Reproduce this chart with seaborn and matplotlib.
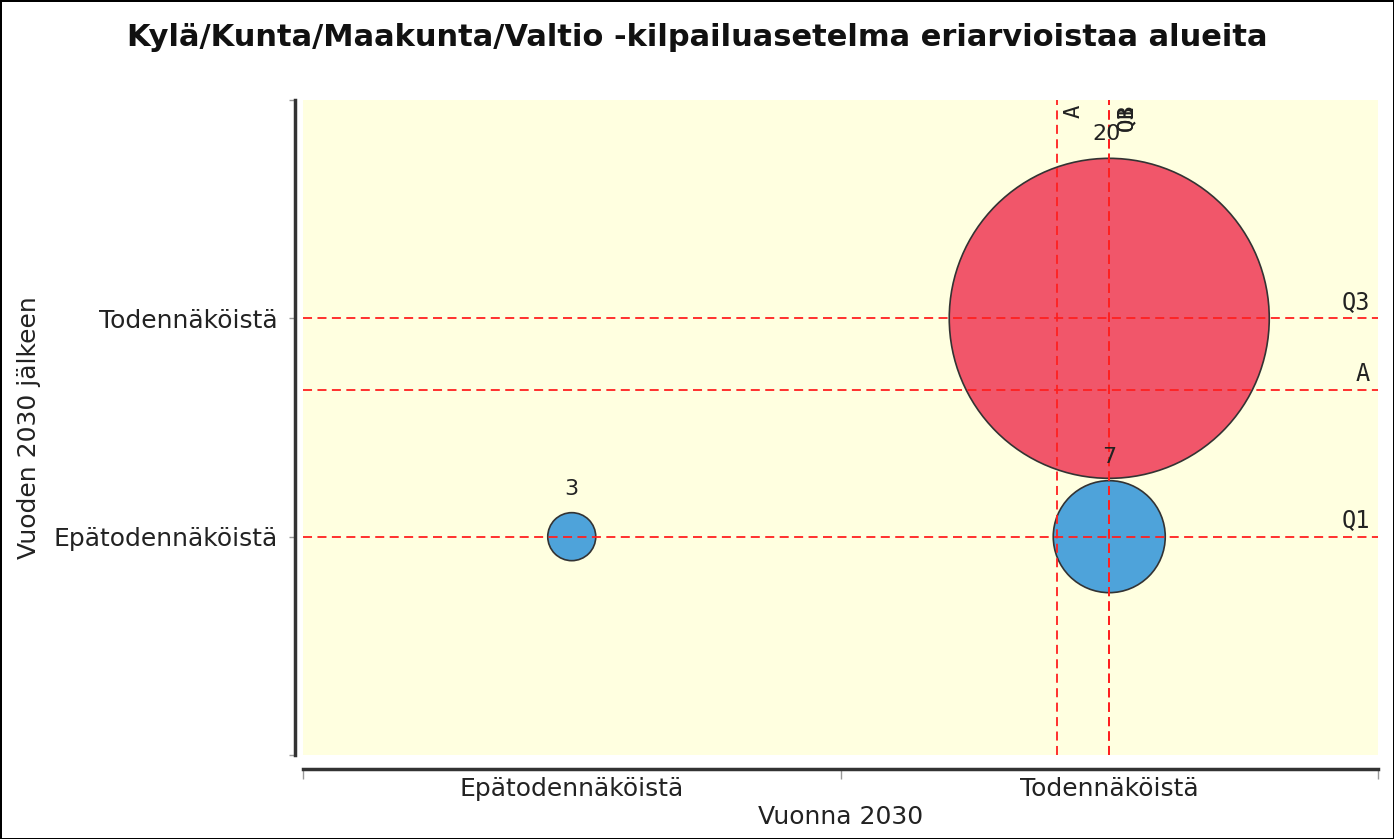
import matplotlib
matplotlib.use('Agg')
import matplotlib.pyplot as plt
import seaborn as sns
import pandas as pd

# ---- data ----
title = 'Kylä/Kunta/Maakunta/Valtio -kilpailuasetelma eriarvioistaa alueita'
x_label = 'Vuonna 2030'
y_label = 'Vuoden 2030 jälkeen'
x_categories = ['Epätodennäköistä', 'Todennäköistä']
y_categories = ['Epätodennäköistä', 'Todennäköistä']
bubble_x = [0, 1, 1]
bubble_y = [0, 0, 1]
bubble_values = [3, 7, 20]
bubble_group = ['blue', 'blue', 'red']
vline_names = ['A', 'Q1', 'Q3', 'B']
vline_values = [0.903, 1.0, 1.0, 1.0]
hline_names = ['Q3', 'A', 'Q1']
hline_values = [1.0, 0.67, 0.0]

# ---- style ----
sns.set_theme(style='white')
plt.rcParams['font.family'] = ['DejaVu Sans']
W, H, DPI = 1394, 839, 100
fig = plt.figure(figsize=(W / DPI, H / DPI), dpi=DPI)
fig.patch.set_facecolor('white')
fig.patch.set_edgecolor('black')
fig.patch.set_linewidth(2)

ax = fig.add_axes([303 / W, 1 - 755 / H, (1378 - 303) / W, (755 - 100) / H])
ax.set_facecolor('#FFFFE0')

df = pd.DataFrame({'x': bubble_x, 'y': bubble_y, 'v': bubble_values, 'g': bubble_group})
px_per_unit = 8.0  # radius in pixels per value unit
pt = 72.0 / DPI
sizes = {v: (2 * px_per_unit * v * pt) ** 2 for v in bubble_values}
palette = {'blue': '#4EA3DA', 'red': '#F1566A'}
sns.scatterplot(data=df, x='x', y='y', size='v', sizes=sizes, hue='g', palette=palette,
                edgecolor='#333333', linewidth=1.2, alpha=1, legend=False, ax=ax, zorder=2)

ax.set_xlim(-0.5, 1.5)
ax.set_ylim(-1, 2)

TXT = '#222222'
FS = 18

# value labels
for xv, yv, v in zip(bubble_x, bubble_y, bubble_values):
    off = (px_per_unit * v + 24) * pt
    ax.annotate(str(v), (xv, yv), xytext=(-2 if v >= 10 else 0, off), textcoords='offset points',
                ha='center', va='center', fontsize=16, color=TXT, zorder=5)

# reference lines
dash = (0, (5, 3))
for name, xv in zip(vline_names, vline_values):
    ax.axvline(xv, color='#FF2020', lw=1.3, ls=dash, zorder=3)
    ax.annotate(name, (xv, 1), xycoords=('data', 'axes fraction'), xytext=(5, -3),
                textcoords='offset points', rotation=90, ha='left', va='top',
                fontsize=16, family='DejaVu Sans Mono', color=TXT, zorder=5)
for name, yv in zip(hline_names, hline_values):
    ax.axhline(yv, color='#FF2020', lw=1.3, ls=dash, zorder=3)
    ax.annotate(name, (1, yv), xycoords=('axes fraction', 'data'), xytext=(-6, 3),
                textcoords='offset points', ha='right', va='bottom',
                fontsize=17, family='DejaVu Sans Mono', color=TXT, zorder=5)

# axes styling
for s in ['top', 'right']:
    ax.spines[s].set_visible(False)
ax.spines['left'].set_position(('outward', 6))
ax.spines['bottom'].set_position(('outward', 10))
for s in ['left', 'bottom']:
    ax.spines[s].set_color('#333333')
    ax.spines[s].set_linewidth(2.5)

ax.set_yticks([-1, 0, 1, 2])
ax.set_yticklabels([''] + y_categories + [''])
ax.tick_params(axis='y', length=4, width=1, color='#999999', labelsize=FS,
               labelcolor=TXT, pad=8, left=True)
ax.set_xticks([-0.5, 0.5, 1.5])
ax.set_xticklabels([])
ax.set_xticks([0, 1], minor=True)
ax.set_xticklabels(x_categories, minor=True)
ax.tick_params(axis='x', which='major', length=7, width=1, color='#999999', bottom=True)
ax.tick_params(axis='x', which='minor', length=0, labelsize=FS, labelcolor=TXT, pad=6)

ax.set_xlabel(x_label, fontsize=FS, color=TXT, labelpad=3)
ax.set_ylabel(y_label, fontsize=FS, color=TXT)
ax.yaxis.set_label_coords((29 - 303) / (1378 - 303), 0.5)
ax.yaxis.label.set_va('center')

fig.suptitle(title, x=0.5, y=1 - 38 / H, va='center', fontsize=22, fontweight='bold',
             color='#111111')

fig.savefig('out.png', dpi=DPI)
